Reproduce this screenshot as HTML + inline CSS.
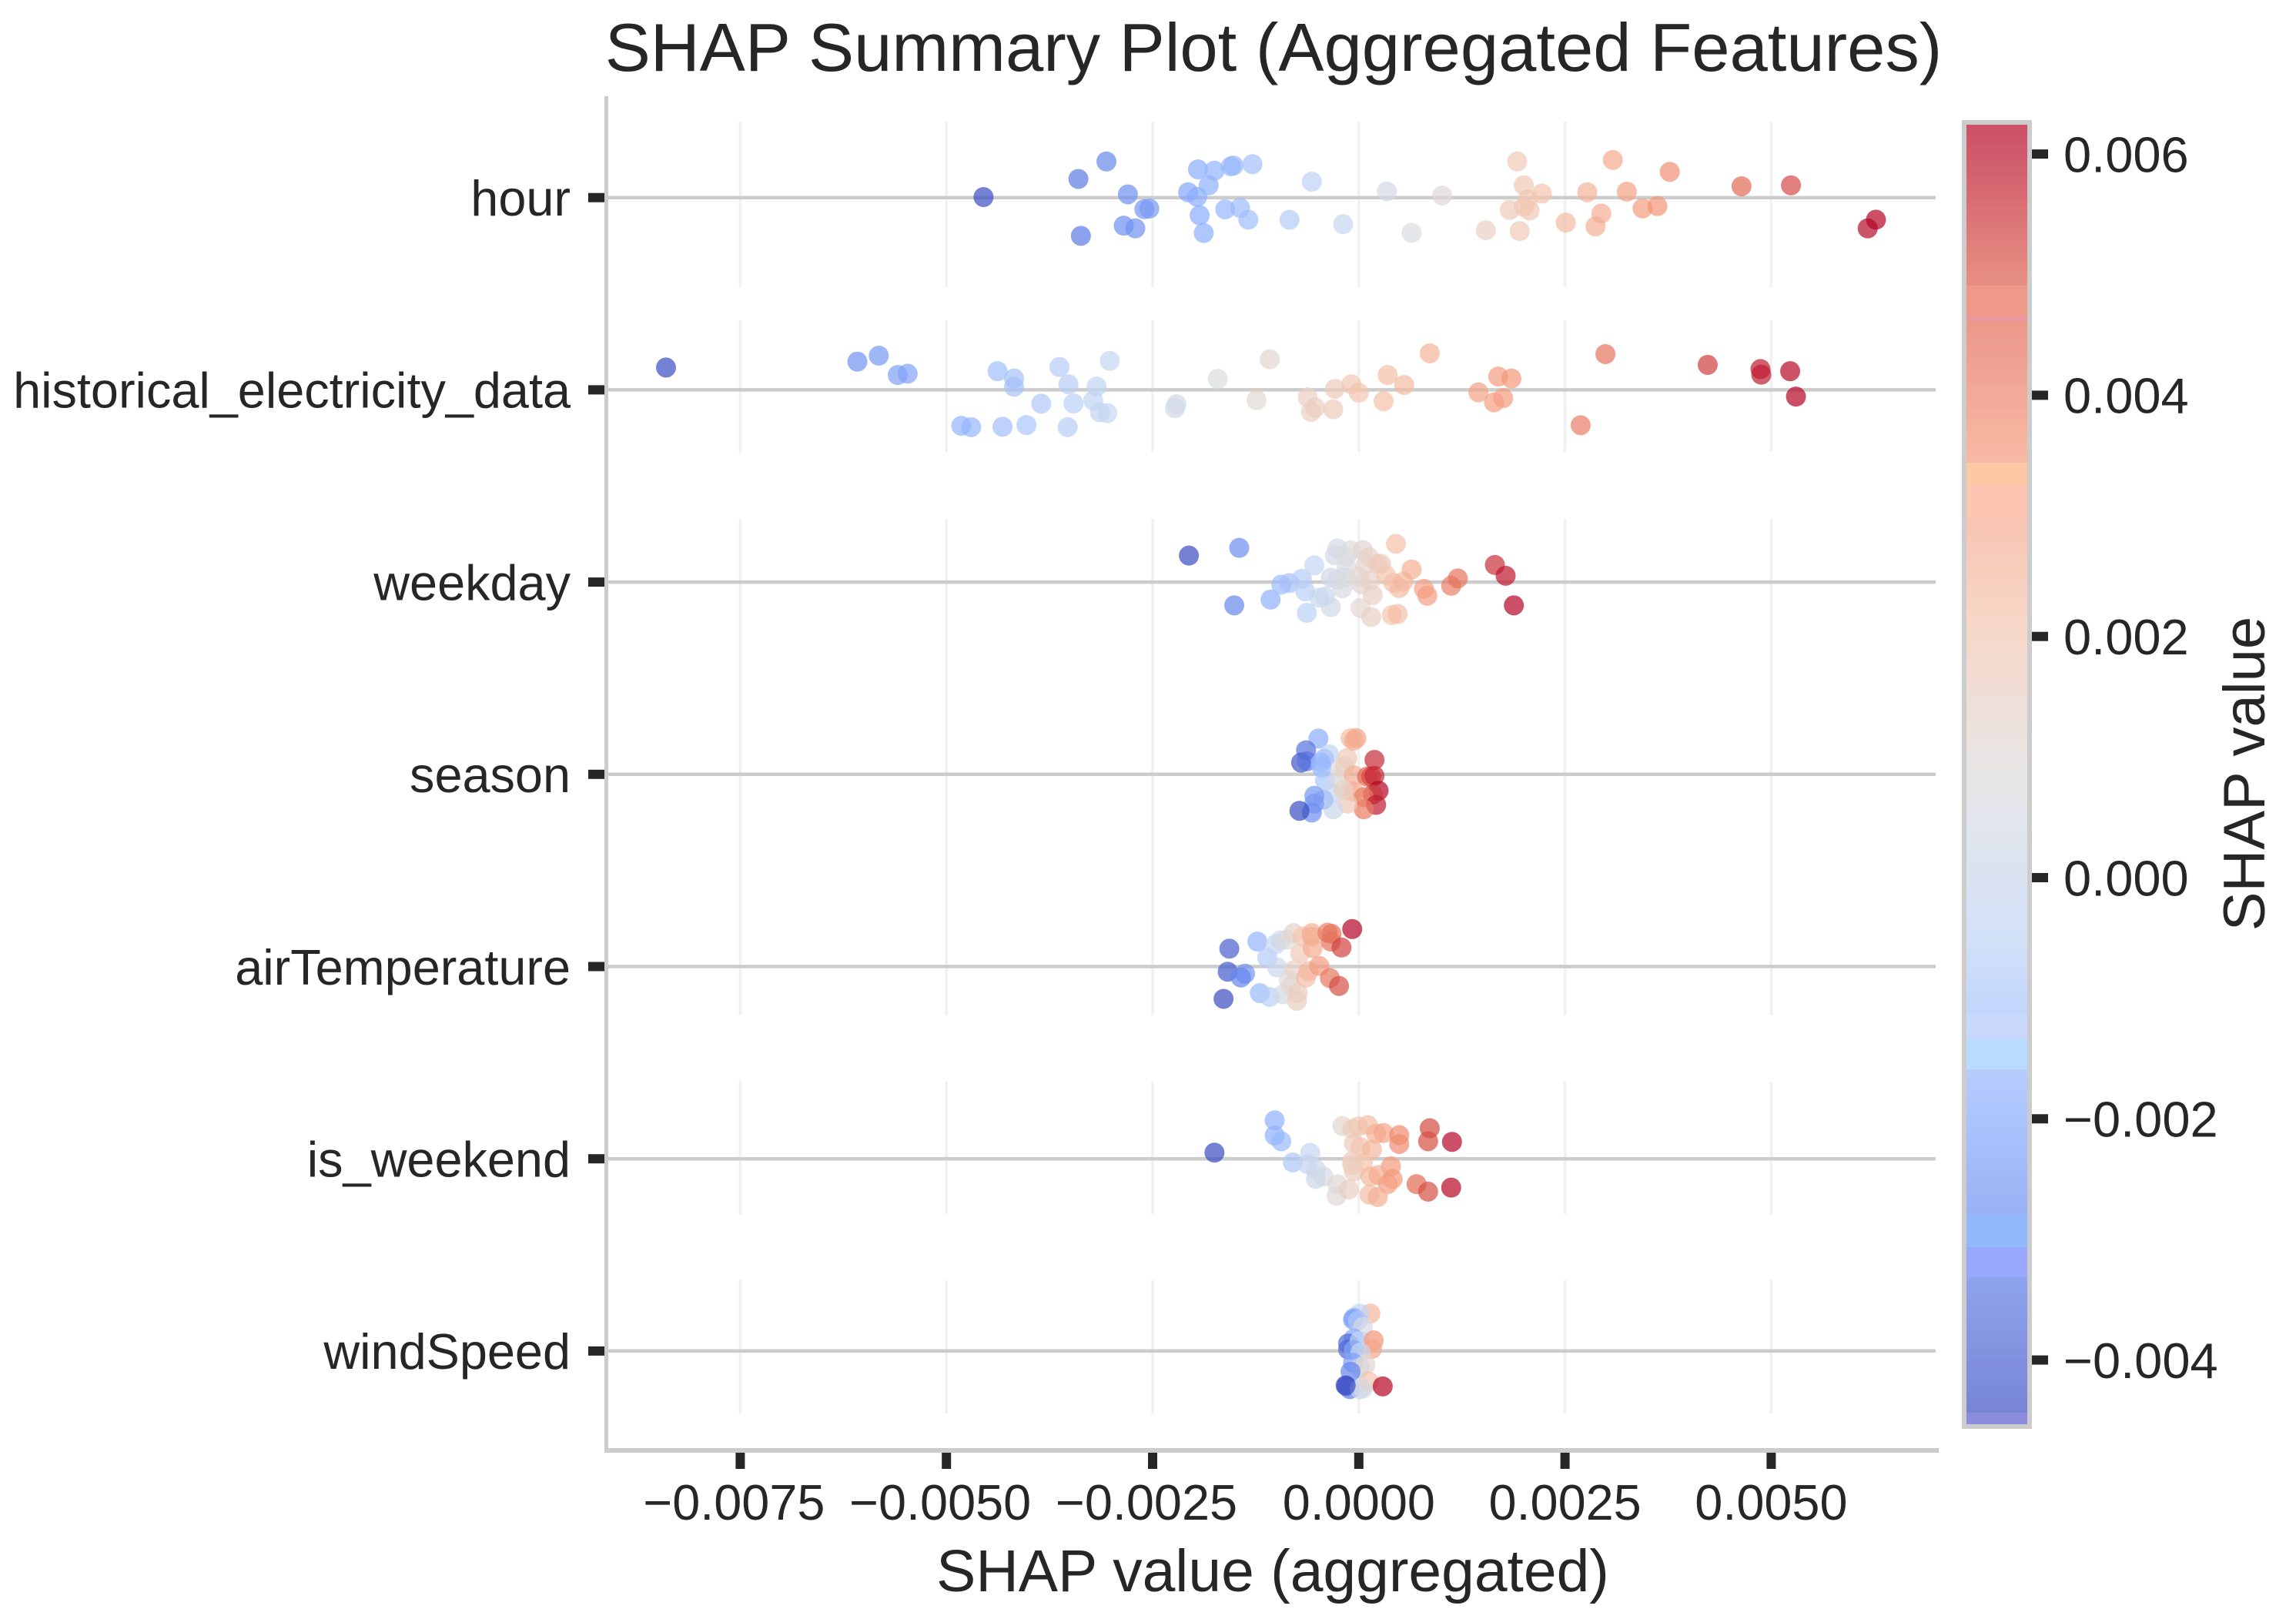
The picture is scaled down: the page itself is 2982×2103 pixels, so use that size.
<!DOCTYPE html>
<html lang="en">
<head>
<meta charset="utf-8">
<title>SHAP Summary Plot (Aggregated Features)</title>
<style>
html,body{margin:0;padding:0;background:#fff;}
svg{display:block;}
text{font-family:"Liberation Sans",sans-serif;fill:#262626;}
</style>
</head>
<body>
<svg id="chart" xmlns="http://www.w3.org/2000/svg" width="2982" height="2103" viewBox="0 0 2982 2103">
  <rect x="0" y="0" width="2982" height="2103" fill="#ffffff"/>
  <g id="grid"></g>
  <g id="rowLines"></g>
  <g id="dots"></g>
  <rect x="785" y="125" width="5" height="1762" fill="#cccccc"/>
  <rect x="785" y="1881" width="1733" height="6" fill="#cccccc"/>
  <g id="xTicks"></g>
  <g id="yTicks"></g>
  <g id="colorbar"></g>
  <g id="cbTicks"></g>
  <text x="1654" y="92" font-size="88.6" text-anchor="middle">SHAP Summary Plot (Aggregated Features)</text>
  <text x="1653" y="2067" font-size="76.8" text-anchor="middle">SHAP value (aggregated)</text>
  <text x="0" y="0" font-size="76" text-anchor="middle" transform="translate(2941 1005) rotate(-90)">SHAP value</text>
</svg>
<script>
const categories = ["hour", "historical_electricity_data", "weekday", "season", "airTemperature", "is_weekend", "windSpeed"];
const xTickValues = [-0.0075, -0.005, -0.0025, 0, 0.0025, 0.005];
const xTickLabels = ["\u22120.0075", "\u22120.0050", "\u22120.0025", "0.0000", "0.0025", "0.0050"];
const cbTickValues = [0.006, 0.004, 0.002, 0, -0.002, -0.004];
const cbTickLabels = ["0.006", "0.004", "0.002", "0.000", "\u22120.002", "\u22120.004"];
const cbMin = -0.004533;
const cbMax = 0.006245;

const shapHour = [-0.00455,-0.00340,-0.00306,-0.00280,-0.00337,-0.00285,-0.00271,-0.00260,-0.00254,-0.00207,-0.00196,-0.00182,-0.00195,-0.00175,-0.00155,-0.00152,-0.00129,-0.00193,-0.00162,-0.00144,-0.00134,-0.00188,-0.00084,-0.00057,-0.00019,0.00034,0.00064,0.00101,0.00154,0.00192,0.00195,0.00200,0.00183,0.00200,0.00205,0.00207,0.00222,0.00251,0.00277,0.00287,0.00294,0.00308,0.00325,0.00344,0.00362,0.00377,0.00464,0.00524,0.00617,0.00627];
const jitterHour = [-0.003,-0.097,-0.188,-0.017,0.199,0.146,0.160,0.060,0.057,-0.028,-0.004,-0.064,-0.147,-0.140,-0.163,-0.167,-0.174,0.092,0.061,0.053,0.115,0.184,0.115,-0.083,0.138,-0.032,0.183,-0.011,0.170,-0.188,0.174,-0.064,0.064,0.047,0.009,0.067,-0.021,0.130,-0.028,0.150,0.083,-0.196,-0.031,0.056,0.044,-0.134,-0.059,-0.064,0.160,0.115];

const shapHistorical = [-0.00840,-0.00608,-0.00582,-0.00559,-0.00547,-0.00438,-0.00418,-0.00418,-0.00363,-0.00352,-0.00318,-0.00302,-0.00385,-0.00346,-0.00322,-0.00314,-0.00305,-0.00482,-0.00470,-0.00432,-0.00403,-0.00353,-0.00221,-0.00223,-0.00171,-0.00108,-0.00124,-0.00062,-0.00029,-0.00009,0.00000,-0.00053,-0.00058,-0.00031,0.00035,0.00055,0.00030,0.00086,0.00145,0.00169,0.00185,0.00175,0.00164,0.00269,0.00299,0.00423,0.00487,0.00488,0.00523,0.00530];
const jitterHistorical = [-0.116,-0.147,-0.178,-0.077,-0.084,-0.097,-0.059,-0.016,-0.119,-0.029,-0.017,-0.151,0.072,0.071,0.055,0.117,0.121,0.187,0.194,0.192,0.183,0.194,0.075,0.095,-0.057,-0.159,0.053,0.039,-0.005,-0.029,0.015,0.092,0.115,0.101,-0.077,-0.025,0.059,-0.190,0.013,-0.069,-0.059,0.043,0.065,0.184,-0.186,-0.130,-0.108,-0.079,-0.097,0.035];

const shapWeekday = [-0.00206,-0.00145,-0.00151,-0.00107,-0.00094,-0.00084,-0.00069,-0.00065,-0.00054,-0.00063,-0.00048,-0.00041,-0.00034,-0.00034,-0.00026,-0.00029,-0.00010,-0.00015,-0.00015,-0.00026,-0.00020,-0.00017,0.00000,0.00003,0.00005,0.00012,0.00008,0.00023,0.00027,0.00002,0.00015,0.00017,0.00014,0.00033,0.00045,0.00040,0.00047,0.00042,0.00049,0.00054,0.00064,0.00079,0.00083,0.00112,0.00120,0.00165,0.00178,0.00188];
const jitterWeekday = [-0.138,-0.178,0.121,0.091,0.013,0.005,-0.017,0.048,-0.087,0.160,0.081,0.075,0.130,-0.023,-0.175,-0.139,-0.166,-0.132,-0.072,-0.012,0.032,-0.025,-0.028,0.011,-0.166,-0.130,-0.089,-0.095,-0.095,0.135,0.182,0.068,-0.008,-0.036,-0.199,0.172,0.166,0.004,0.031,-0.003,-0.065,0.035,0.071,0.019,-0.019,-0.089,-0.033,0.121];

const shapSeason = [-0.00049,-0.00064,-0.00070,-0.00063,-0.00036,-0.00042,-0.00046,-0.00045,-0.00041,-0.00024,-0.00022,-0.00014,-0.00017,-0.00010,-0.00003,-0.00006,-0.00012,-0.00006,0.00010,0.00015,0.00019,0.00019,0.00024,0.00017,-0.00006,0.00006,0.00021,0.00006,-0.00014,-0.00031,-0.00033,-0.00043,-0.00054,-0.00054,-0.00057,-0.00072,-0.00019];
const jitterSeason = [-0.186,-0.125,-0.061,-0.068,-0.104,-0.081,-0.061,-0.035,0.032,0.025,-0.028,-0.085,-0.041,-0.188,-0.188,-0.175,0.086,0.005,0.012,0.012,0.008,-0.075,0.085,0.105,0.090,0.119,0.159,0.182,0.152,0.182,0.099,0.132,0.112,0.152,0.199,0.190,0.079];

const shapAir = [-0.00157,-0.00159,-0.00138,-0.00143,-0.00164,-0.00123,-0.00111,-0.00101,-0.00095,-0.00099,-0.00120,-0.00108,-0.00092,-0.00085,-0.00082,-0.00087,-0.00079,-0.00074,-0.00075,-0.00071,-0.00078,-0.00064,-0.00061,-0.00068,-0.00057,-0.00057,-0.00056,-0.00048,-0.00038,-0.00033,-0.00034,-0.00021,-0.00035,-0.00024,-0.00008];
const jitterAir = [-0.093,0.027,0.037,0.057,0.168,-0.130,-0.047,-0.116,-0.136,0.004,0.138,0.158,0.144,0.071,0.104,-0.140,-0.174,0.138,0.178,-0.069,0.017,0.057,0.024,-0.156,-0.174,-0.156,-0.096,-0.003,-0.176,-0.170,-0.130,-0.099,0.060,0.101,-0.195];

const shapWeekend = [-0.00175,-0.00102,-0.00102,-0.00094,-0.00080,-0.00059,-0.00062,-0.00052,-0.00052,-0.00043,-0.00026,-0.00027,-0.00020,-0.00012,-0.00008,-0.00001,0.00011,-0.00006,0.00002,0.00016,-0.00008,0.00005,-0.00006,-0.00008,0.00021,0.00030,0.00049,0.00049,0.00039,0.00014,0.00024,0.00041,0.00035,0.00013,0.00023,0.00070,0.00084,0.00086,0.00084,0.00113,0.00112];
const jitterWeekend = [-0.032,-0.200,-0.121,-0.091,0.019,-0.031,0.028,0.056,0.105,0.092,0.132,0.192,-0.171,0.159,-0.155,-0.168,-0.175,-0.081,-0.061,-0.048,0.012,0.019,0.065,0.032,-0.131,-0.134,-0.123,-0.077,0.039,0.092,0.085,0.105,0.132,0.186,0.199,0.132,0.171,-0.159,-0.091,-0.088,0.150];

const shapWind = [0.00014,0.00001,-0.00006,-0.00007,-0.00001,0.00005,-0.00006,-0.00013,-0.00013,0.00001,0.00018,0.00016,-0.00006,0.00002,-0.00007,0.00001,0.00008,-0.00010,-0.00015,-0.00011,0.00001,0.00012,0.00029,0.00005,-0.00016];
const jitterWind = [-0.195,-0.195,-0.172,-0.163,-0.158,-0.125,-0.065,-0.039,-0.008,-0.052,-0.055,-0.011,-0.005,0.008,0.061,0.088,0.071,0.108,0.182,0.198,0.198,0.158,0.184,0.195,0.179];

const shapByRow = [shapHour, shapHistorical, shapWeekday, shapSeason, shapAir, shapWeekend, shapWind];
const jitterByRow = [jitterHour, jitterHistorical, jitterWeekday, jitterSeason, jitterAir, jitterWeekend, jitterWind];

const NS = "http://www.w3.org/2000/svg";
function xScale(v) { return 1764.8 + v * 107120; }
function yScale(pos) { return 256.7 + pos * 249.7; }
function cbScale(v) { return 1140 - v * 156650; }

const coolwarmStops = [[59,76,192],[98,130,234],[141,176,254],[192,212,245],[221,220,220],[244,196,173],[244,152,122],[222,96,77],[180,4,38]];
function coolwarm(t) {
  const c = Math.max(0, Math.min(1, t)) * (coolwarmStops.length - 1);
  const i = Math.min(Math.floor(c), coolwarmStops.length - 2);
  const f = c - i;
  return [0, 1, 2].map(function (k) { return coolwarmStops[i][k] + (coolwarmStops[i + 1][k] - coolwarmStops[i][k]) * f; });
}
function rgb(c) { return "rgb(" + c.map(Math.round).join(",") + ")"; }
function make(tag, attrs, parent) {
  const el = document.createElementNS(NS, tag);
  Object.keys(attrs).forEach(function (k) { el.setAttribute(k, attrs[k]); });
  parent.appendChild(el);
  return el;
}

const gridGroup = document.getElementById("grid");
const gridSpans = [[158, 373], [416, 587], [674, 1319], [1405, 1577], [1663, 1836]];
xTickValues.forEach(function (v) {
  gridSpans.forEach(function (s) {
    const g = make("line", { x1: xScale(v), x2: xScale(v), y1: s[0], y2: s[1], stroke: "#f0f0f0", "stroke-width": 3.4 }, gridGroup);
    
    
  });
});

const rowGroup = document.getElementById("rowLines");
const yTickGroup = document.getElementById("yTicks");
categories.forEach(function (name, i) {
  const y = yScale(i);
  const line = make("line", { x1: 790, x2: 2514, y1: y, y2: y, stroke: "#cccccc", "stroke-width": 4.5 }, rowGroup);
  
  
  const tick = make("rect", { x: 764, y: y - 6, width: 21, height: 12, fill: "#262626" }, yTickGroup);
  
  
  const label = make("text", { x: 741, y: y + 23.3, "font-size": 64.8, "text-anchor": "end" }, yTickGroup);
  label.textContent = name;
  
  
});

const xTickGroup = document.getElementById("xTicks");
xTickValues.forEach(function (v, i) {
  const x = xScale(v);
  const tick = make("rect", { x: x - 6, y: 1887, width: 12, height: 21, fill: "#262626" }, xTickGroup);
  
  
  const label = make("text", { x: v < 0 ? x - 8 : x, y: 1974, "font-size": 64.8, "text-anchor": "middle" }, xTickGroup);
  label.textContent = xTickLabels[i];
  
  
});

const dotGroup = document.getElementById("dots");
shapByRow.forEach(function (values, r) {
  const lo = Math.min.apply(null, values);
  const hi = Math.max.apply(null, values);
  values.forEach(function (v, i) {
    const dot = make("circle", {
      cx: xScale(v),
      cy: yScale(r + jitterByRow[r][i]),
      r: 13,
      fill: rgb(coolwarm((v - lo) / (hi - lo))),
      "fill-opacity": 0.7
    }, dotGroup);
    
    
  });
});

const cbGroup = document.getElementById("colorbar");
const cbTop = cbScale(cbMax);
const cbBottom = cbScale(cbMin);
const cbSteps = 256;
for (let i = 0; i < cbSteps; i++) {
  const t = (i + 0.5) / cbSteps;
  const c = coolwarm(t).map(function (ch) { return 255 - (255 - ch) * 0.7; });
  const yEnd = cbBottom - (cbBottom - cbTop) * i / cbSteps;
  const h = (cbBottom - cbTop) / cbSteps;
  const cell = make("rect", { x: 2554, y: yEnd - h, width: 79.3, height: h + 0.6, fill: rgb(c) }, cbGroup);
  
  
}
const cbBands = [[371, 411, "#ef9a88"], [411, 417, "#e8989e"], [601, 629, "#fdc9a5"], [629, 674, "#fcc6b2"], [1317, 1350, "#c8d8fc"], [1350, 1389, "#b9dbff"], [1577, 1620, "#94b8fc"], [1620, 1659, "#98a8fd"], [1835, 1850, "#8b8cdc"]];
cbBands.forEach(function (b) {
  const band = make("rect", { x: 2554, y: b[0], width: 79.3, height: b[1] - b[0], fill: b[2] }, cbGroup);
  
  
});
const cbFrame = make("rect", { x: 2551, y: 159, width: 85, height: 1694, fill: "none", stroke: "#cccccc", "stroke-width": 6 }, cbGroup);



const cbTickGroup = document.getElementById("cbTicks");
cbTickValues.forEach(function (v, i) {
  const y = cbScale(v);
  const tick = make("rect", { x: 2639, y: y - 6, width: 21, height: 12, fill: "#262626" }, cbTickGroup);
  
  
  const label = make("text", { x: 2680, y: y + 23.3, "font-size": 65 }, cbTickGroup);
  label.textContent = cbTickLabels[i];
  
  
});
</script>
</body>
</html>
